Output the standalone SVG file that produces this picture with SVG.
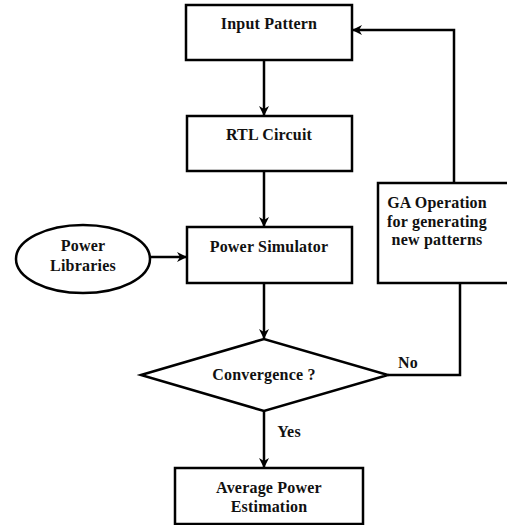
<svg xmlns="http://www.w3.org/2000/svg" width="507" height="525" viewBox="0 0 507 525">
<style>
.box{fill:#fff;stroke:#000;stroke-width:2.5}
.ln{fill:none;stroke:#000;stroke-width:2.5}
text{font-family:"Liberation Serif","Times New Roman",serif;font-weight:bold;font-size:16px;letter-spacing:0.2px;text-anchor:middle;fill:#111}
</style>
<defs>
<marker id="ah" markerWidth="10" markerHeight="10" refX="9" refY="5" orient="auto" markerUnits="userSpaceOnUse">
<path d="M0,0 L10,5 L0,10 L3,5 Z" fill="#000"/>
</marker>
</defs>
<rect width="507" height="525" fill="#fff"/>
<g id="connectors">
<line class="ln" x1="264" y1="61" x2="264" y2="115" marker-end="url(#ah)"/>
<line class="ln" x1="264" y1="172" x2="264" y2="226" marker-end="url(#ah)"/>
<line class="ln" x1="151" y1="257" x2="186" y2="257" marker-end="url(#ah)"/>
<line class="ln" x1="264" y1="284" x2="264" y2="338" marker-end="url(#ah)"/>
<line class="ln" x1="264" y1="411" x2="264" y2="467" marker-end="url(#ah)"/>
<polyline class="ln" points="388,375 460,375 460,283"/>
<polyline class="ln" points="454,183 454,30 353,30" marker-end="url(#ah)"/>
<text x="408" y="368">No</text>
<text x="289" y="437">Yes</text>
</g>
<g id="input-pattern">
<rect class="box" x="186" y="5" width="166" height="55"/>
<text x="269" y="29">Input Pattern</text>
</g>
<g id="rtl-circuit">
<rect class="box" x="187" y="116" width="165" height="55"/>
<text x="269" y="140">RTL Circuit</text>
</g>
<g id="power-simulator">
<rect class="box" x="187" y="227" width="165" height="56"/>
<text x="269" y="252">Power Simulator</text>
</g>
<g id="power-libraries">
<ellipse class="box" cx="83" cy="259" rx="67" ry="34"/>
<text x="83" y="251">Power</text>
<text x="83" y="271">Libraries</text>
</g>
<g id="ga-operation">
<rect class="box" x="378" y="183" width="132" height="100"/>
<text x="437" y="208">GA Operation</text>
<text x="437" y="227">for generating</text>
<text x="437" y="245">new patterns</text>
</g>
<g id="convergence">
<polygon class="box" points="141,375 264,339 388,375 264,411"/>
<text x="264" y="380">Convergence ?</text>
</g>
<g id="average-power">
<rect class="box" x="175" y="468" width="188" height="56"/>
<text x="269" y="493">Average Power</text>
<text x="269" y="512">Estimation</text>
</g>
</svg>
